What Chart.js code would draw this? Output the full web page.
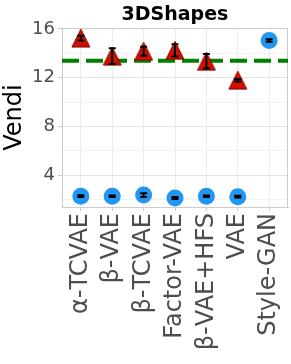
<!DOCTYPE html>
<html>
<head>
<meta charset="utf-8">
<script src="https://cdn.jsdelivr.net/npm/chart.js@4/dist/chart.umd.min.js"></script>
<style>
  html, body { margin: 0; padding: 0; background: #fff; }
  #wrap { width: 291px; height: 364px; }
</style>
</head>
<body>
<div id="wrap"><canvas id="vendiChart" width="291" height="364"></canvas></div>
<script>
// data
var methods = ['α-TCVAE', 'β-VAE', 'β-TCVAE', 'Factor-VAE', 'β-VAE+HFS', 'VAE', 'Style-GAN'];
var triangleVals = [15.25, 13.77, 14.17, 14.25, 13.35, 11.8, null];
var triangleErr = [0.2, 0.65, 0.37, 0.5, 0.6, 0.1, null];
var circleVals = [2.29, 2.28, 2.38, 2.13, 2.28, 2.25, 15.05];
var circleErr = [0.07, 0.06, 0.15, 0.08, 0.07, 0.07, 0.1];
var refLine = 13.4;
var yTicks = [2, 4, 6, 8, 10, 12, 14, 16];

var xMin = -0.6, xMax = 6.6;

function triangleImage(size, fill, stroke) {
    var c = document.createElement('canvas');
    c.width = size + 2;
    c.height = size + 2;
    var g = c.getContext('2d');
    g.beginPath();
    g.moveTo(1 + size / 2, 1);
    g.lineTo(1 + size, 1 + size);
    g.lineTo(1, 1 + size);
    g.closePath();
    g.fillStyle = fill;
    g.fill();
    g.lineWidth = 1;
    g.strokeStyle = stroke;
    g.stroke();
    return c;
}

function toPoints(vals) {
    var out = [];
    vals.forEach(function (v, i) {
        if (v !== null) out.push({ x: i, y: v });
    });
    return out;
}

var errorBars = {
    id: 'errorBars',
    afterDatasetsDraw: function (chart) {
        var ctx = chart.ctx, xs = chart.scales.x, ys = chart.scales.y;
        ctx.save();
        ctx.strokeStyle = '#000';
        ctx.lineWidth = 2;
        [[triangleVals, triangleErr], [circleVals, circleErr]].forEach(function (pair) {
            pair[0].forEach(function (v, i) {
                if (v === null) return;
                var px = xs.getPixelForValue(i);
                var top = ys.getPixelForValue(v + pair[1][i]);
                var bot = ys.getPixelForValue(v - pair[1][i]);
                ctx.beginPath();
                ctx.moveTo(px, top); ctx.lineTo(px, bot);
                ctx.moveTo(px - 3.5, top); ctx.lineTo(px + 3.5, top);
                ctx.moveTo(px - 3.5, bot); ctx.lineTo(px + 3.5, bot);
                ctx.stroke();
            });
        });
        ctx.restore();
    }
};

var frameAndTitle = {
    id: 'frameAndTitle',
    beforeDatasetsDraw: function (chart) {
        var a = chart.chartArea, ctx = chart.ctx;
        ctx.save();
        ctx.strokeStyle = '#cccccc';
        ctx.lineWidth = 1;
        ctx.strokeRect(a.left + 0.5, a.top + 0.5, a.right - a.left - 1, a.bottom - a.top);
        ctx.restore();
    },
    afterDraw: function (chart) {
        var a = chart.chartArea, ctx = chart.ctx;
        ctx.save();
        ctx.fillStyle = '#000';
        ctx.font = 'bold 19px "DejaVu Sans"';
        ctx.textAlign = 'center';
        ctx.textBaseline = 'alphabetic';
        ctx.fillText('3DShapes', (a.left + a.right) / 2, 20);
        ctx.restore();
    }
};

var ctx = document.getElementById('vendiChart').getContext('2d');
var chart = new Chart(ctx, {
    type: 'scatter',
    data: {
        datasets: [{
            type: 'line',
            data: [{ x: xMin, y: refLine }, { x: xMax, y: refLine }],
            borderColor: '#008000',
            borderWidth: 4,
            borderDash: [17, 7],
            pointRadius: 0,
            order: 3
        }, {
            data: toPoints(triangleVals),
            pointStyle: triangleImage(18, '#cc1100', '#8b0000'),
            pointRadius: 9,
            order: 1
        }, {
            data: toPoints(circleVals),
            pointStyle: 'circle',
            pointRadius: 8.5,
            backgroundColor: '#2196f3',
            borderColor: '#2196f3',
            borderWidth: 0,
            order: 1
        }]
    },
    options: {
        responsive: false,
        animation: false,
        layout: { autoPadding: false, padding: { top: 28, right: 3, left: 0, bottom: 0 } },
        plugins: {
            legend: { display: false },
            tooltip: { enabled: false },
            title: { display: false }
        },
        scales: {
            x: {
                type: 'linear',
                min: xMin,
                max: xMax,
                afterBuildTicks: function (scale) {
                    scale.ticks = methods.map(function (m, i) { return { value: i }; });
                },
                afterFit: function (scale) {
                    scale.height = 157;
                    scale.paddingLeft = 0;
                    scale.paddingRight = 0;
                },
                ticks: {
                    minRotation: 90,
                    maxRotation: 90,
                    autoSkip: false,
                    padding: 2,
                    color: '#4d4d4d',
                    font: { family: 'DejaVu Sans', size: 24 },
                    callback: function (v) { return methods[v]; }
                },
                grid: { color: '#ebebeb', tickColor: '#cccccc', tickLength: 4 },
                border: { color: '#cccccc' }
            },
            y: {
                min: 1.4,
                max: 16.08,
                afterBuildTicks: function (scale) {
                    scale.ticks = yTicks.map(function (v) { return { value: v }; });
                },
                afterFit: function (scale) { scale.width = 62; },
                ticks: {
                    padding: 3,
                    color: '#4d4d4d',
                    font: { family: 'DejaVu Sans', size: 18 },
                    callback: function (v) { return v % 4 === 0 ? v : ''; }
                },
                grid: {
                    color: function (c) { return c.tick && c.tick.value % 4 === 0 ? '#e3e3e3' : '#f2f2f2'; },
                    tickColor: function (c) { return c.tick && c.tick.value % 4 === 0 ? '#cccccc' : 'rgba(0,0,0,0)'; },
                    tickLength: 4
                },
                border: { color: '#cccccc' },
                title: {
                    display: true,
                    text: 'Vendi',
                    color: '#000',
                    font: { family: 'DejaVu Sans', size: 24 },
                    padding: 0
                }
            }
        }
    },
    plugins: [errorBars, frameAndTitle]
});
</script>
</body>
</html>
